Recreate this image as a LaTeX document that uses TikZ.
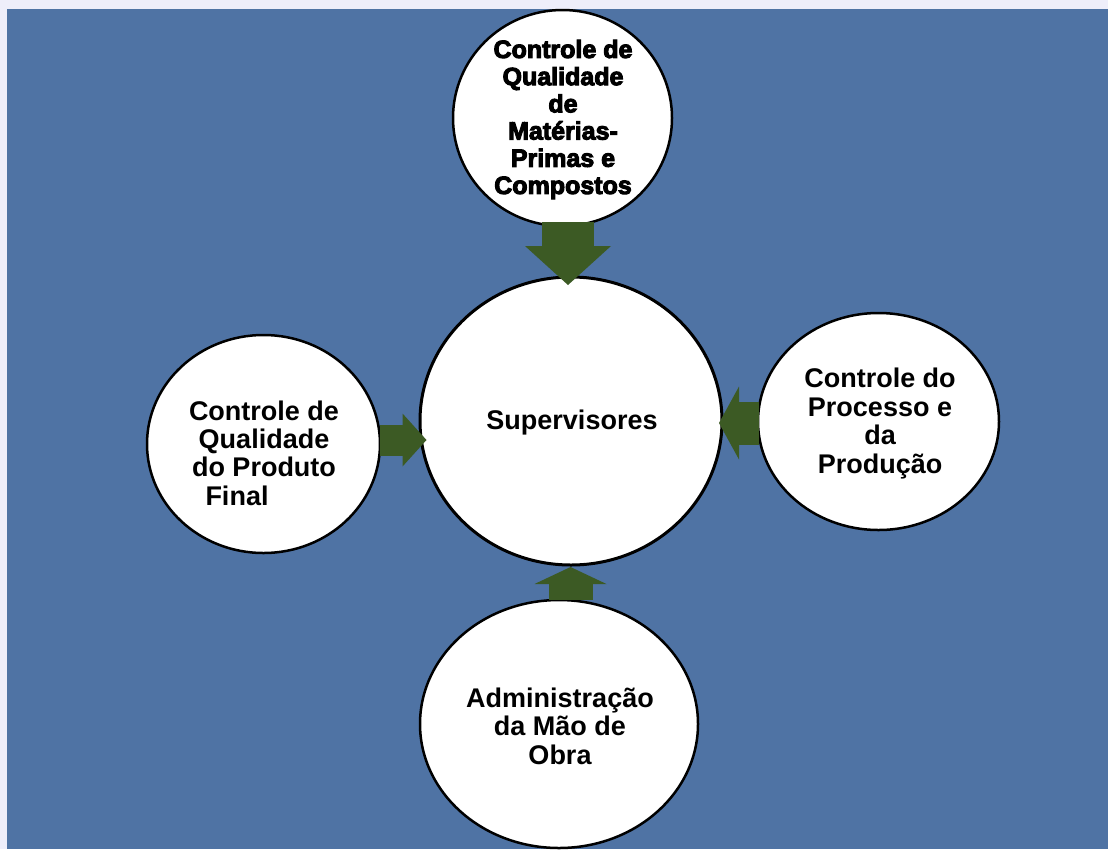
\documentclass[tikz,border=0pt]{standalone}
\usepackage{fontspec}
\setmainfont{Liberation Sans}
\newfontfamily\heavyfont[FakeBold=4]{Liberation Sans Bold}
\usetikzlibrary{shapes.geometric, arrows.meta}
\definecolor{pagelilac}{HTML}{EEEEFA}
\definecolor{slideblue}{HTML}{4F73A4}
\definecolor{arrowgreen}{HTML}{3C5A24}

\begin{document}
\begin{tikzpicture}
    [
        x=1pt, y=-1pt,
        bubble/.style={ellipse, draw=black, fill=white, line width=2.5pt, inner sep=0pt},
        bubbletext/.style={align=center, inner sep=0pt, font=\fontsize{27}{28.4}\selectfont\bfseries},
        blockarrow/.style={arrowgreen, line width=#1}
    ]
    % slide background
    \fill[pagelilac] (0,0) rectangle (1108,849);
    \fill[slideblue] (7,9) rectangle (1108,849);

    % the five circles
    \node[bubble, minimum width=219pt, minimum height=216pt] (mp) at (562.5,118) {};
    \node[bubble, minimum width=302pt, minimum height=288pt, line width=3pt] (sup) at (571,421) {};
    \node[bubble, minimum width=233pt, minimum height=218pt] (qpf) at (263.5,444) {};
    \node[bubble, minimum width=241pt, minimum height=217pt] (cpp) at (878.5,421.5) {};
    \node[bubble, minimum width=278pt, minimum height=248pt] (amo) at (559,724) {};

    \node[bubbletext, font=\fontsize{25}{27.2}\selectfont\heavyfont] (mptext) at (563,119.5)
        {Controle de\\Qualidade\\de\\Matérias-\\Primas e\\Compostos};
    \node[bubbletext] (suptext) at (572,423) {Supervisores};
    \node[bubbletext] (qpftext) at (264,453)
        {Controle de\\Qualidade\\do Produto\\Final\rule{2em}{0pt}};
    \node[bubbletext] (cpptext) at (880,423.5) {Controle do\\Processo e\\da\\Produção};
    \node[bubbletext] (amotext) at (560,726) {Administração\\da Mão de\\Obra};

    % block arrows into the supervisors
    \draw[blockarrow=52pt, -{Triangle[width=86pt, length=39pt, line width=0pt]}]
        ([xshift=5.5pt, yshift=5pt]mp.south) -- ([xshift=-3pt, yshift=-9.5pt]sup.north);
    \draw[blockarrow=31pt, -{Triangle[width=53pt, length=24pt, line width=0pt]}]
        ([xshift=-1pt, yshift=4pt]qpf.east) -- ([xshift=8pt, yshift=-19pt]sup.west);
    \draw[blockarrow=43pt, -{Triangle[width=73pt, length=20pt, line width=0pt]}]
        ([xshift=2pt, yshift=-1.5pt]cpp.west) -- ([xshift=-4.5pt, yshift=-2pt]sup.east);
    \draw[blockarrow=44pt, -{Triangle[width=72pt, length=17pt, line width=0pt]}]
        ([xshift=11.5pt, yshift=-1pt]amo.north) -- ([xshift=-0.5pt, yshift=-0.5pt]sup.south);
\end{tikzpicture}
\end{document}
